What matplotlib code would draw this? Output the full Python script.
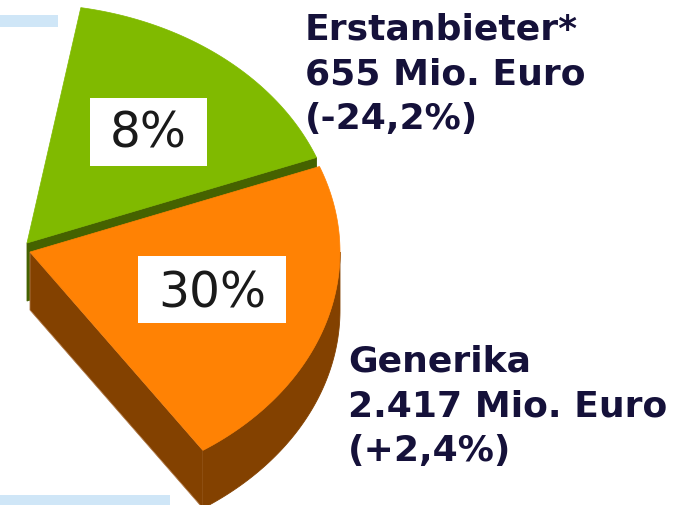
import numpy as np
import matplotlib
matplotlib.use('Agg')
import matplotlib.pyplot as plt
from matplotlib.patches import Polygon, Rectangle

# ── data ─────────────────────────────────────────────────────────────────────
segments    = ['Erstanbieter*', 'Generika']
pct_labels  = ['8%', '30%']
amounts     = ['655 Mio. Euro', '2.417 Mio. Euro']
changes     = ['(-24,2%)', '(+2,4%)']
drawn_share = [16.4, 21.4]   # share of the full circle each wedge covers as drawn

# ── style ────────────────────────────────────────────────────────────────────
top_colors  = ['#80ba00', '#ff8204']
side_colors = ['#456200', '#834100']
text_color  = '#15113a'
band_color  = '#cfe6f7'

CX, CY   = 27, 243       # pie centre (pixel space, y down)
RX, RY   = 310, 239      # ellipse radii of the tilted pie
DEPTH    = 58
START    = 80            # degrees, slices run clockwise
offsets  = [(0, 0), (3, 9)]   # explode offsets

W, H = 695, 505
fig = plt.figure(figsize=(W / 100, H / 100), dpi=100)
ax = fig.add_axes([0, 0, 1, 1])
ax.set_xlim(0, W)
ax.set_ylim(H, 0)
ax.axis('off')

# light blue bands of the slide
ax.add_patch(Rectangle((0, 15), 58, 12, color=band_color, lw=0))
ax.add_patch(Rectangle((0, 495), 170, 12, color=band_color, lw=0))


def pt(cx, cy, deg):
    t = np.radians(deg)
    return cx + RX * np.cos(t), cy - RY * np.sin(t)


angle = START
for i, share in enumerate(drawn_share):
    a0, a1 = angle, angle - share * 3.6
    angle = a1
    cx, cy = CX + offsets[i][0], CY + offsets[i][1]

    # radial side face along the clockwise edge
    ex, ey = pt(cx, cy, a1)
    face = [(cx, cy), (ex, ey), (ex, ey + DEPTH), (cx, cy + DEPTH)]
    ax.add_patch(Polygon(face, closed=True, fc=side_colors[i],
                         ec='#b07a4a' if i == 1 else side_colors[i], lw=0.6))

    # outer rim face (only front half is visible)
    lo, hi = max(a1, -180), min(a0, 0)
    if hi > lo:
        ts = np.linspace(hi, lo, 80)
        top = [pt(cx, cy, t) for t in ts]
        bot = [(x, y + DEPTH) for x, y in top[::-1]]
        ax.add_patch(Polygon(top + bot, closed=True, fc=side_colors[i],
                             ec=side_colors[i], lw=0.6))

    # top face
    ts = np.linspace(a0, a1, 120)
    poly = [(cx, cy)] + [pt(cx, cy, t) for t in ts]
    ax.add_patch(Polygon(poly, closed=True, fc=top_colors[i],
                         ec=top_colors[i], lw=0.5))

# percentage boxes
boxes = [(90, 98, 117, 68, 148), (138, 256, 148, 67, 307)]
for (bx, by, bw, bh, base), lab in zip(boxes, pct_labels):
    ax.add_patch(Rectangle((bx, by), bw, bh, color='white', lw=0))
    ax.text(bx + bw / 2, base, lab, ha='center', va='baseline',
            fontsize=35, color='#1a1a1a', family='DejaVu Sans')

# segment labels
label_pos = [(305, 40), (348, 372)]
for (lx, ly), seg, amt, chg in zip(label_pos, segments, amounts, changes):
    for k, line in enumerate([seg, amt, chg]):
        ax.text(lx, ly + k * 44.5, line, ha='left', va='baseline',
                fontsize=26, fontweight='bold', color=text_color,
                family='DejaVu Sans')

plt.savefig('out.png', dpi=100)
